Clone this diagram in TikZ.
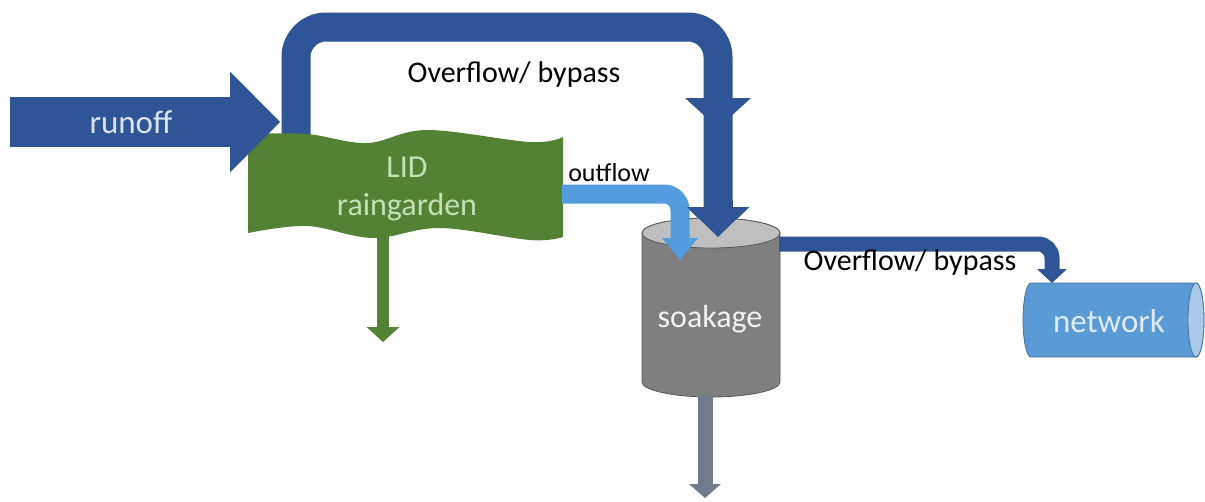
\documentclass[tikz,border=0pt]{standalone}
\usepackage{fontspec}
\setmainfont{Carlito}
\usetikzlibrary{arrows.meta}
\definecolor{pipeblue}{HTML}{2F5597}
\definecolor{flowblue}{HTML}{559CDE}
\definecolor{netblue}{HTML}{5B9BD5}
\definecolor{netline}{HTML}{41719C}
\definecolor{netcap}{HTML}{A9C8EA}
\definecolor{netfont}{HTML}{DEEBF7}
\definecolor{lidgreen}{HTML}{548235}
\definecolor{lidfont}{HTML}{C5E0B4}
\definecolor{runfont}{HTML}{DAE3F3}
\definecolor{soakgray}{HTML}{7F7F7F}
\definecolor{soaktop}{HTML}{BFBFBF}
\definecolor{soakline}{HTML}{595959}
\definecolor{soakfont}{HTML}{F2F2F2}
\definecolor{drainblue}{HTML}{707C8C}
\tikzset{
  txt/.style={inner sep=0pt, anchor=base, font=\fontsize{#1}{#1}\selectfont},
  tiparrow/.style n args={2}{-{Triangle[width=#1,length=#2,line width=0pt]}},
}
\begin{document}
\begin{tikzpicture}[x=1pt,y=-1pt]
\useasboundingbox (0,0) rectangle (1205,501);

% coordinates
\coordinate (runoffstart) at (10,122);
\coordinate (lidin) at (280,122);
\coordinate (bypassstart) at (296,136);
\coordinate (bypasstop) at (718,27);
\coordinate (soakin) at (718,237);
\coordinate (outstart) at (562,194);
\coordinate (outend) at (680,260);
\coordinate (soakout) at (779,244);
\coordinate (netin) at (1052,283);
\coordinate (lidbottom) at (383,234);
\coordinate (lidinfil) at (383,342);
\coordinate (soakbottom) at (705,395);
\coordinate (soakinfil) at (705,498);

% overflow / bypass pipe
\draw[line width=29pt, pipeblue, rounded corners=30pt, tiparrow={63pt}{30pt}]
  (bypassstart) |- (bypasstop) -- (soakin);
\fill[pipeblue] (685,98) -- (751,98) -- (718,128) -- cycle;
\node[txt=30] (bypasslabel) at (514,82) {Overflow/ bypass};

% LID raingarden wave shape
\fill[lidgreen] plot[smooth, tension=0.6] coordinates {(248,134) (307,134) (367,143) (427,130) (530,142) (563,137)}
  -- plot[smooth, tension=0.6] coordinates {(563,237) (530,240) (440,228) (373,238) (307,226) (248,233)} -- cycle;
\node[inner sep=0pt, align=center, text=lidfont, font=\fontsize{32}{38}\selectfont] (lid) at (407,189) {LID\\raingarden};

% runoff arrow
\draw[line width=50pt, pipeblue, tiparrow={101pt}{50pt}] (runoffstart) -- (lidin);
\node[txt=33, text=runfont] (runoff) at (131,133) {runoff};

% LID infiltration
\draw[line width=12pt, lidgreen, tiparrow={33pt}{15pt}] (lidbottom) -- (lidinfil);

% soakage cylinder
\filldraw[fill=soakgray, draw=soakline, line width=0.8pt]
  (642,233) -- (642,382) arc (180:360:69pt and 15pt) -- (780,233) arc (0:180:69pt and 15pt) -- cycle;
\filldraw[fill=soaktop, draw=soakline, line width=0.8pt] (711,233) ellipse (69pt and 15pt);
\node[txt=32, text=soakfont] (soakage) at (710,327) {soakage};

% soakage infiltration
\draw[line width=15pt, drainblue, tiparrow={32pt}{14pt}] (soakbottom) -- (soakinfil);

% outflow pipe
\draw[line width=19pt, flowblue, rounded corners=16pt, tiparrow={36pt}{22pt}] (outstart) -| (outend);
\node[txt=26] (outflowlabel) at (609,181) {outflow};

% redraw the bypass tip on top of the cylinder
\fill[pipeblue] (703.5,200) rectangle (732.5,208);
\fill[pipeblue] (687,207) -- (749,207) -- (718,237) -- cycle;

% second overflow to network
\draw[line width=15pt, pipeblue, rounded corners=14pt, tiparrow={30pt}{14pt}] (soakout) -| (netin);
\node[txt=30] (bypasslabel2) at (910,270) {Overflow/ bypass};

% network cylinder
\filldraw[fill=netblue, draw=netline, line width=0.8pt]
  (1196,283) -- (1031,283) arc (90:270:8pt and 37pt) -- (1196,357) arc (-90:90:8pt and 37pt) -- cycle;
\filldraw[fill=netcap, draw=netline, line width=0.8pt] (1196,320) ellipse (8pt and 37pt);
\node[txt=33, text=netfont] (network) at (1109,332) {network};
\end{tikzpicture}
\end{document}
